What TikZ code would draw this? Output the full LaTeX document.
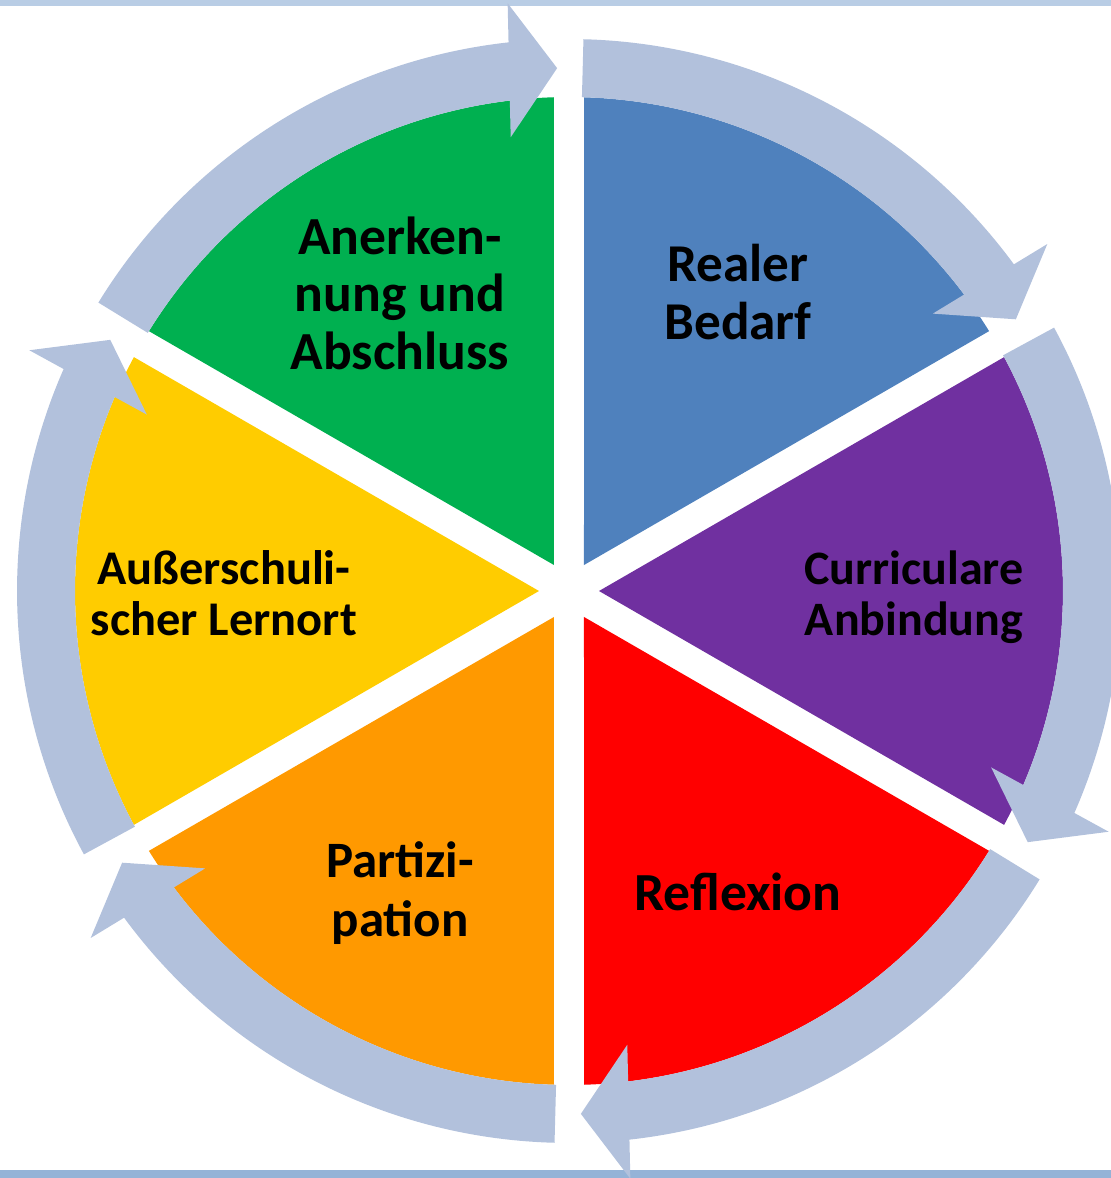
\documentclass[tikz,border=0pt]{standalone}
\usepackage{fontspec}
\setmainfont{Carlito}
\definecolor{cycleblue}{RGB}{178,193,220}
\definecolor{linetop}{RGB}{185,205,229}
\definecolor{linebottom}{RGB}{149,179,215}
\definecolor{sectorblue}{RGB}{79,129,189}
\definecolor{sectorpurple}{RGB}{112,48,160}
\definecolor{sectorred}{RGB}{255,0,0}
\definecolor{sectororange}{RGB}{255,153,0}
\definecolor{sectoryellow}{RGB}{255,204,0}
\definecolor{sectorgreen}{RGB}{0,176,80}

\begin{document}
\begin{tikzpicture}[x=0.5pt, y=0.5pt,
    cyclearrow/.style={fill=cycleblue},
    phasetext/.style={align=center, inner sep=0pt}]
    \useasboundingbox (-569,-587) rectangle (542,591);
    \clip (-569,-587) rectangle (542,591);
    % lines at top and bottom
    \fill[linetop] (-569,585.3) rectangle (542,591);
    \fill[linebottom] (-569,-579) rectangle (542,-587);
    % the six sectors
    \fill[sectorblue, rotate=60] (30,0) -- (28.26:494) arc[start angle=28.26, end angle=-28.26, radius=494] -- cycle;
    \fill[sectorpurple, rotate=0] (30,0) -- (28.26:494) arc[start angle=28.26, end angle=-28.26, radius=494] -- cycle;
    \fill[sectorred, rotate=-60] (30,0) -- (28.26:494) arc[start angle=28.26, end angle=-28.26, radius=494] -- cycle;
    \fill[sectororange, rotate=-120] (30,0) -- (28.26:494) arc[start angle=28.26, end angle=-28.26, radius=494] -- cycle;
    \fill[sectoryellow, rotate=180] (30,0) -- (28.26:494) arc[start angle=28.26, end angle=-28.26, radius=494] -- cycle;
    \fill[sectorgreen, rotate=120] (30,0) -- (28.26:494) arc[start angle=28.26, end angle=-28.26, radius=494] -- cycle;
    % curved arrows, clockwise
    \fill[cyclearrow, rotate=31.3] (57.2:552) arc[start angle=57.2, end angle=4.99, radius=552] -- (589,48) -- (523,0) -- (455,48) -- (5.58:494) arc[start angle=5.58, end angle=57.2, radius=494] -- cycle;
    \fill[cyclearrow, rotate=-28.7] (57.2:552) arc[start angle=57.2, end angle=4.99, radius=552] -- (589,48) -- (523,0) -- (455,48) -- (5.58:494) arc[start angle=5.58, end angle=57.2, radius=494] -- cycle;
    \fill[cyclearrow, rotate=-88.7] (57.2:552) arc[start angle=57.2, end angle=4.99, radius=552] -- (589,48) -- (523,0) -- (455,48) -- (5.58:494) arc[start angle=5.58, end angle=57.2, radius=494] -- cycle;
    \fill[cyclearrow, rotate=-148.7] (57.2:552) arc[start angle=57.2, end angle=4.99, radius=552] -- (589,48) -- (523,0) -- (455,48) -- (5.58:494) arc[start angle=5.58, end angle=57.2, radius=494] -- cycle;
    \fill[cyclearrow, rotate=151.3] (57.2:552) arc[start angle=57.2, end angle=4.99, radius=552] -- (589,48) -- (523,0) -- (455,48) -- (5.58:494) arc[start angle=5.58, end angle=57.2, radius=494] -- cycle;
    \fill[cyclearrow, rotate=91.3] (57.2:552) arc[start angle=57.2, end angle=4.99, radius=552] -- (589,48) -- (523,0) -- (455,48) -- (5.58:494) arc[start angle=5.58, end angle=57.2, radius=494] -- cycle;
    % texts
    \node[phasetext, font={\bfseries\fontsize{26.6}{29}\selectfont}] (bedarf) at (169,298.5) {Realer\\Bedarf};
    \node[phasetext, font={\bfseries\fontsize{24}{25.5}\selectfont}] (anbindung) at (345,-6) {Curriculare\\Anbindung};
    \node[phasetext, font={\bfseries\fontsize{26.8}{28}\selectfont}] (reflexion) at (169,-301) {Reflexion};
    \node[phasetext, font={\bfseries\fontsize{25.5}{29.5}\selectfont}] (partizipation) at (-169,-302) {Partizi-\\pation};
    \node[phasetext, font={\bfseries\fontsize{24.2}{25.5}\selectfont}] (lernort) at (-345,-2) {Außerschuli-\\scher Lernort};
    \node[phasetext, font={\bfseries\fontsize{26.8}{28.75}\selectfont}] (anerkennung) at (-169,298) {Anerken-\\nung und\\Abschluss};
\end{tikzpicture}
\end{document}
